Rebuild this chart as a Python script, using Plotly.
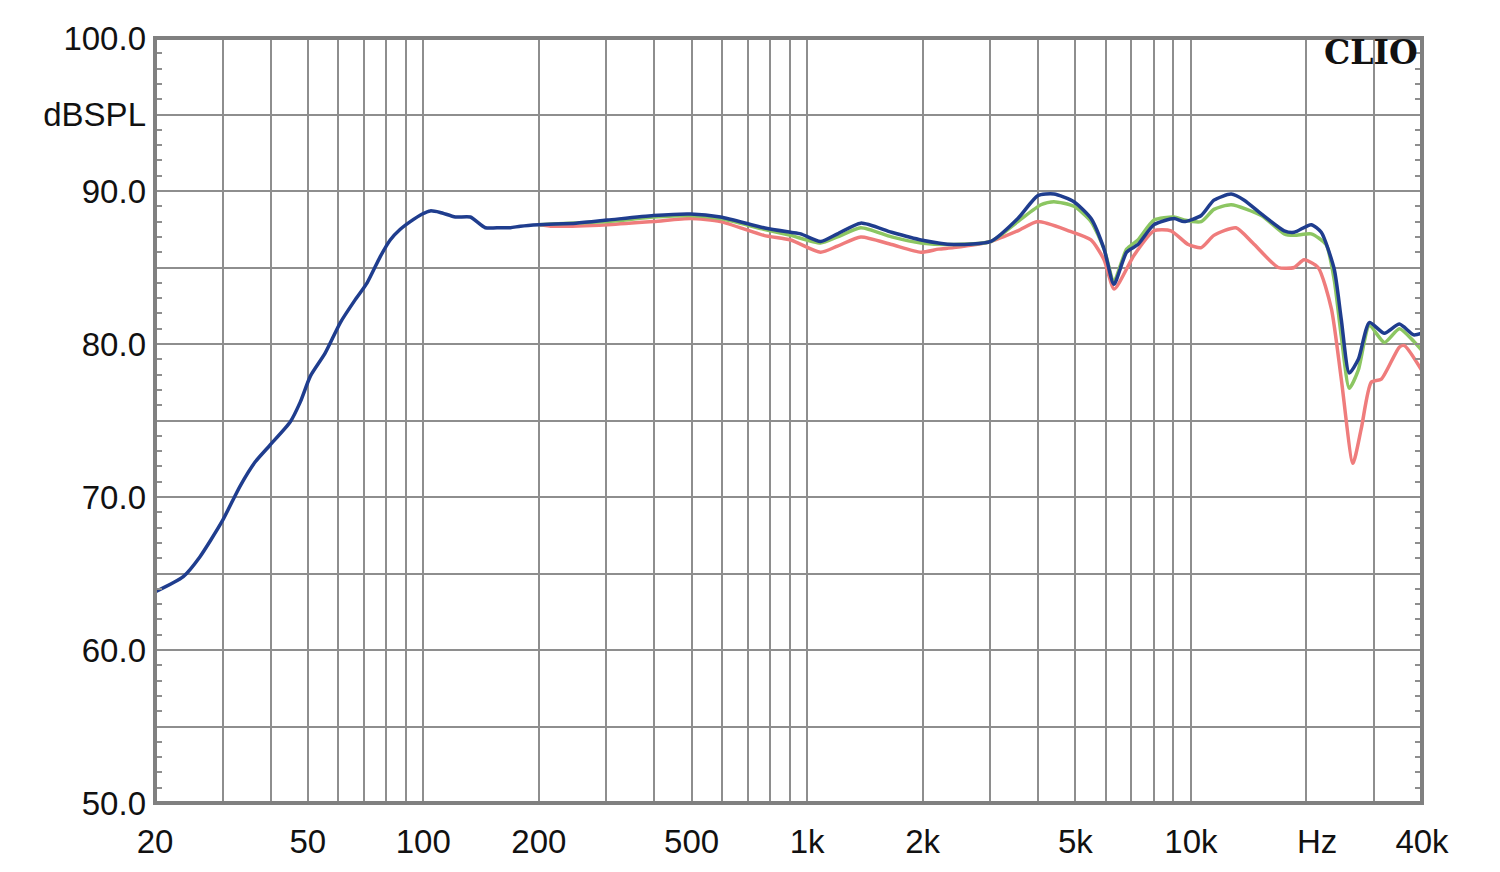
import math
import plotly.graph_objects as go

# ---- data ----
blue_f = [20, 23.7, 26.2, 29.9, 33.3, 36.5, 39.9, 45, 47.8, 50.8, 55.5, 60.8, 66.5, 71.4, 77.2, 82,
          87.1, 92.5, 99.4, 104.3, 110.7, 121.2, 132.6, 145.1, 158.9, 168.7, 179.1, 199.6, 250, 302,
          398, 497, 595, 771, 906, 962, 1084, 1200, 1380, 1660, 1980, 2411, 3011, 3541, 3992, 4395,
          4956, 5494, 5941, 6300, 6800, 7277, 8014, 9037, 9592, 10638, 11480, 12730, 13770, 15250,
          17500, 18580, 20580, 21860, 23620, 24650, 25860, 27300, 29170, 31920, 34920, 38010, 39900]
blue_db = [63.8, 64.8, 66.1, 68.4, 70.7, 72.3, 73.4, 74.9, 76.2, 77.9, 79.4, 81.4, 82.9, 84.0, 85.7, 86.8,
           87.5, 88.0, 88.5, 88.7, 88.6, 88.3, 88.3, 87.6, 87.6, 87.6, 87.7, 87.8, 87.9, 88.1,
           88.4, 88.5, 88.3, 87.6, 87.3, 87.2, 86.7, 87.2, 87.9, 87.3, 86.8, 86.5, 86.7, 88.2, 89.7, 89.8,
           89.3, 88.2, 86.2, 83.9, 86.0, 86.5, 87.8, 88.2, 88.0, 88.4, 89.4, 89.8, 89.4, 88.5,
           87.4, 87.3, 87.8, 87.3, 84.9, 81.6, 78.1, 79.0, 81.4, 80.7, 81.3, 80.6, 80.7]

green_f = [200, 302, 398, 497, 595, 771, 906, 1084, 1200, 1380, 1660, 1980, 2411, 3011, 3541, 4066, 4395,
           4956, 5494, 5941, 6300, 6800, 7277, 8014, 9037, 9592, 10638, 11480, 12730, 15250, 17500,
           18580, 20580, 22500, 23620, 24650, 25860, 27300, 29170, 31920, 34920, 38010, 39900]
green_db = [87.8, 88.0, 88.3, 88.4, 88.2, 87.5, 87.1, 86.6, 87.0, 87.6, 87.0, 86.6, 86.5, 86.7, 88.0, 89.1, 89.3,
            89.0, 88.0, 86.2, 84.1, 86.2, 86.8, 88.1, 88.3, 88.1, 88.0, 88.8, 89.1, 88.4, 87.2,
            87.1, 87.2, 86.5, 84.2, 80.5, 77.1, 78.3, 81.2, 80.1, 81.0, 80.2, 79.6]

red_f = [200, 218, 302, 398, 497, 595, 771, 906, 1084, 1200, 1380, 1660, 1980, 2200, 2411, 3011, 3541, 3990,
         4800, 5490, 5941, 6310, 7110, 8010, 8870, 9840, 10640, 11480, 13100, 14500, 16880, 18580,
         19710, 21450, 23230, 24650, 26430, 27800, 29500, 31340, 34920, 36000, 39900]
red_db = [87.8, 87.7, 87.8, 88.0, 88.2, 88.0, 87.1, 86.8, 86.0, 86.4, 87.0, 86.5, 86.0, 86.2, 86.3, 86.7, 87.4, 88.0,
          87.4, 86.8, 85.5, 83.6, 85.8, 87.4, 87.4, 86.5, 86.3, 87.1, 87.6, 86.6, 85.0, 85.0,
          85.5, 85.0, 82.3, 77.7, 72.2, 74.5, 77.5, 77.7, 79.8, 79.9, 78.3]

x_grid = [20, 30, 40, 50, 60, 70, 80, 90, 100, 200, 300, 400, 500, 600, 700, 800, 900,
          1000, 2000, 3000, 4000, 5000, 6000, 7000, 8000, 9000, 10000, 20000, 30000, 40000]
x_labels = {20: "20", 50: "50", 100: "100", 200: "200", 500: "500", 1000: "1k", 2000: "2k",
            5000: "5k", 10000: "10k", 40000: "40k"}
unit_label = "Hz"
unit_pos_hz = 21300
y_grid = [50, 55, 60, 65, 70, 75, 80, 85, 90, 95, 100]
y_labels = {50: "50.0", 60: "60.0", 70: "70.0", 80: "80.0", 90: "90.0", 95: "dBSPL", 100: "100.0"}

fig = go.Figure()
for f, d, c in [(red_f, red_db, "#ef7c7c"), (green_f, green_db, "#8cc662"), (blue_f, blue_db, "#1f3d8e")]:
    fig.add_trace(go.Scatter(x=f, y=d, mode="lines", line=dict(color=c, width=3.5, shape="spline", smoothing=0.6),
                             showlegend=False, hoverinfo="skip"))

font = dict(family="Liberation Sans, Arial, sans-serif", size=33, color="#111")
grid_col = "#8e8e8e"

fig.update_layout(
    width=1500, height=872,
    margin=dict(l=147, r=86, t=24, b=77),
    paper_bgcolor="white", plot_bgcolor="white",
    xaxis=dict(type="log", range=[1.30103, 4.60206], tickvals=x_grid,
               ticktext=[x_labels.get(v, "") for v in x_grid],
               showgrid=True, gridcolor=grid_col, gridwidth=1.6, ticks="", showline=False,
               zeroline=False, tickfont=font, ticklabelstandoff=16),
    yaxis=dict(range=[50, 100], tickvals=y_grid, ticktext=[y_labels.get(v, "") for v in y_grid],
               showgrid=True, gridcolor=grid_col, gridwidth=1.6, ticks="", showline=False,
               zeroline=False, tickfont=font, ticklabelstandoff=8,
               minor=dict(dtick=1, ticks="inside", ticklen=7, tickcolor=grid_col, tickwidth=1.5, showgrid=False)),
    yaxis2=dict(range=[50, 100], overlaying="y", side="right", showgrid=False, showticklabels=False,
                ticks="", zeroline=False, showline=False, tickvals=y_grid,
                minor=dict(dtick=1, ticks="inside", ticklen=7, tickcolor=grid_col, tickwidth=1.5, showgrid=False)),
    shapes=[dict(type="rect", xref="paper", yref="paper", x0=0, x1=1, y0=0, y1=1,
                 line=dict(color="#808080", width=4), layer="above")],
    annotations=[
        dict(text="<b>CLIO</b>", xref="paper", yref="paper", x=0.9985, y=1.009,
             xanchor="right", yanchor="top", showarrow=False,
             font=dict(family="DejaVu Serif, serif", size=33, color="#111")),
        dict(text=unit_label, xref="x", yref="paper", x=math.log10(unit_pos_hz), y=0,
             xanchor="center", yanchor="top", yshift=-18, showarrow=False, font=font),
    ],
)
fig.add_trace(go.Scatter(x=[20], y=[50], yaxis="y2", mode="markers", marker=dict(opacity=0),
                         showlegend=False, hoverinfo="skip"))

fig.write_html("out.html")
